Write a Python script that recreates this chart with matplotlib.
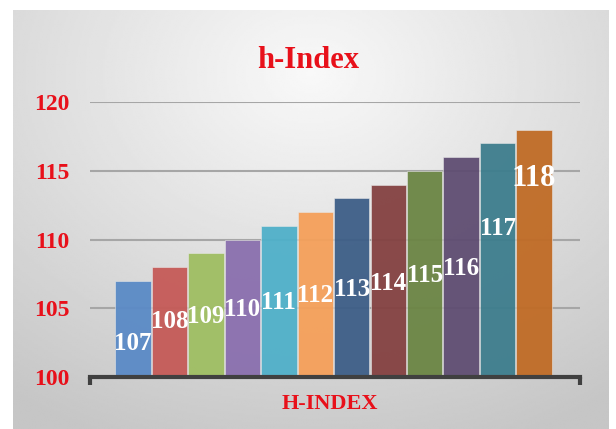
import numpy as np
import matplotlib.pyplot as plt

# h-index values, one bar each
values = [107, 108, 109, 110, 111, 112, 113, 114, 115, 116, 117, 118]
bar_colors = ['#5a8ac6', '#c55a57', '#9fbe62', '#8a6fae', '#4fb0c9', '#f5a05a',
              '#3d5e87', '#844141', '#6b8544', '#5f4d72', '#3d7d8d', '#c06b25']
# where the value labels sit inside the bars (data units)
label_y = [102.4, 104.0, 104.4, 104.9, 105.4, 105.9, 106.4, 106.8, 107.4, 107.9, 110.8, 114.4]
label_size = [18, 18, 18, 18, 18, 18, 18, 18, 18, 18, 18, 22]
yticks = [100, 105, 110, 115, 120]

red = '#e8101a'
serif = ['Liberation Serif', 'DejaVu Serif']

fig = plt.figure(figsize=(6.16, 4.29), dpi=100)
fig.patch.set_facecolor('white')

# gray gradient panel behind the chart
bg = fig.add_axes([13 / 616, 0, (609 - 13) / 616, 1 - 10 / 429])
bg.set_axis_off()
gx, gy = np.meshgrid(np.linspace(0, 1, 300), np.linspace(0, 1, 220))
dist = np.sqrt(((gx - 0.5) * 1.1) ** 2 + ((gy - 0.15) * 1.0) ** 2)
shade = 0.975 - 0.2 * np.clip(dist / 0.95, 0, 1)
bg.imshow(shade, cmap='gray', vmin=0, vmax=1, aspect='auto',
          extent=[0, 1, 1, 0], interpolation='bilinear')
bg.set_xlim(0, 1)
bg.set_ylim(1, 0)

ax = fig.add_axes([90 / 616, 1 - 377 / 429, (580 - 90) / 616, (377 - 102) / 429])
ax.set_facecolor('none')

x = np.arange(len(values))
ax.bar(x, np.array(values) - 100, bottom=100, width=0.97, color=bar_colors,
       edgecolor='#e8e8e8', linewidth=0.4, zorder=3, alpha=0.95)

for xi, ly, v, fs in zip(x, label_y, values, label_size):
    ax.text(xi, ly, str(v), ha='center', va='center', color='white',
            fontsize=fs, fontweight='bold', family=serif, zorder=5)

ax.set_ylim(100, 120)
ax.set_xlim(-1.18, 12.26)
ax.set_yticks(yticks)
ax.set_yticklabels([str(t) for t in yticks], color=red, fontsize=17,
                   fontweight='bold', family=serif)
ax.tick_params(axis='y', length=0, pad=15)
ax.yaxis.grid(True, color='#a6a6a6', linewidth=1.5, zorder=1)
ax.set_axisbelow(True)

ax.set_xticks([-1.18, 12.26])
ax.set_xticklabels(['', ''])
ax.tick_params(axis='x', direction='out', length=6, width=3, color='#404040')

for side in ['top', 'right', 'left']:
    ax.spines[side].set_visible(False)
ax.spines['bottom'].set_linewidth(3)
ax.spines['bottom'].set_color('#404040')
ax.spines['bottom'].set_zorder(4)

fig.text(0.5, 1 - 60 / 429, 'h-Index', ha='center', va='center', color=red,
         fontsize=22, fontweight='bold', family=serif)
fig.text(330 / 616, 1 - 404 / 429, 'H-INDEX', ha='center', va='center', color=red,
         fontsize=16, fontweight='bold', family=serif)

fig.savefig('out.png', dpi=100)
